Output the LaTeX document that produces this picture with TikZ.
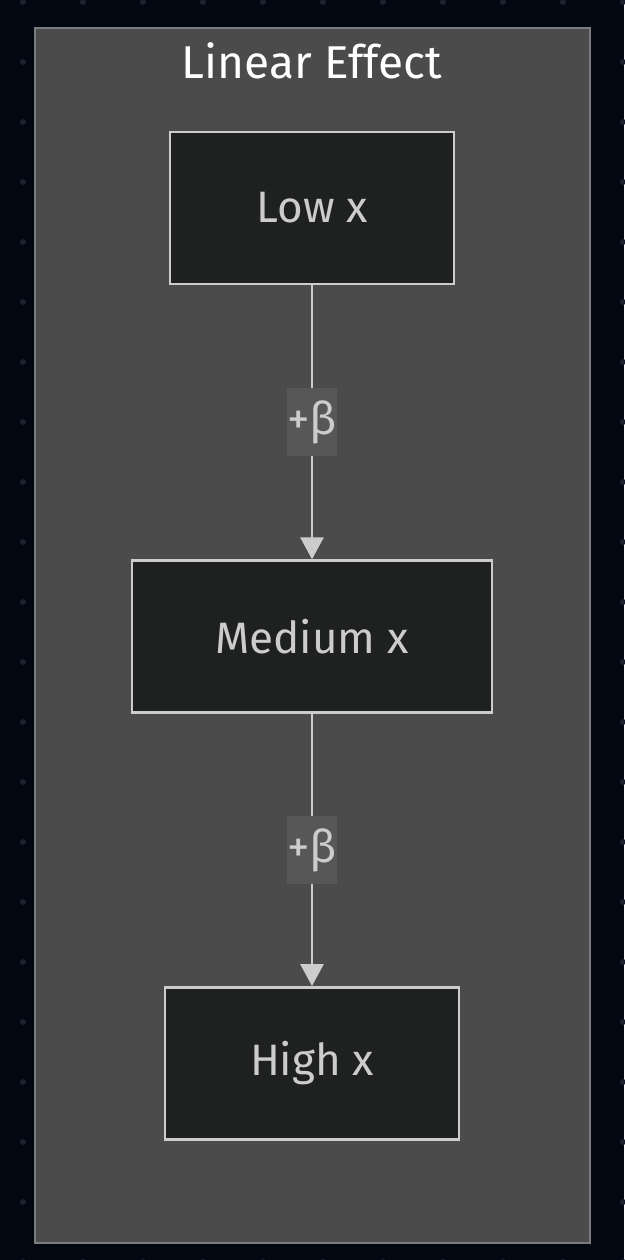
\documentclass[tikz,border=0pt]{standalone}
\usepackage{fontspec}
\setmainfont{Fira Sans}
\usepackage{tikz}
\usetikzlibrary{positioning,arrows.meta}
\definecolor{bgdark}{HTML}{030712}
\definecolor{griddot}{HTML}{1C2130}
\definecolor{clusterfill}{HTML}{4A4B4A}
\definecolor{clusterline}{HTML}{7A7C80}
\definecolor{boxfill}{HTML}{1F2020}
\definecolor{boxline}{HTML}{CCCCCC}
\definecolor{labelfill}{HTML}{575757}

\begin{document}
\begin{tikzpicture}[
    x=1pt, y=-1pt,
    box/.style = {draw=boxline, line width=2.7pt, fill=boxfill, text=boxline, minimum height=152pt, font=\fontsize{44}{53}\selectfont},
    lbl/.style = {fill=labelfill, text=boxline, minimum width=49pt, minimum height=68pt, inner sep=0pt, font=\fontsize{45}{54}\selectfont},
    > = {Triangle[width=23pt, length=22pt]},
    node distance = 274pt
]
\useasboundingbox (0,0) rectangle (624,1260);
\fill[bgdark] (0,0) rectangle (624,1260);
\foreach \i in {0,...,10} {
  \foreach \j in {0,...,21} {
    \fill[griddot] (23+60*\i, 2+60*\j) circle (3pt);
  }
}
% cluster
\draw[clusterline, line width=2pt, fill=clusterfill] (35,28) rectangle (590,1243);
\node (title) [text=white, font=\fontsize{46}{55}\selectfont] at (312,61) {Linear Effect};

\node (low) [box, minimum width=284pt] at (312,208) {Low x};
\node (med) [box, minimum width=360pt, below=of low] {Medium x};
\node (high) [box, minimum width=294pt, below=272pt of med] {High x};

\draw[->, boxline, line width=2.7pt] (low) to node[lbl] {+β} (med);
\draw[->, boxline, line width=2.7pt] (med) to node[lbl] {+β} (high);
\end{tikzpicture}
\end{document}
